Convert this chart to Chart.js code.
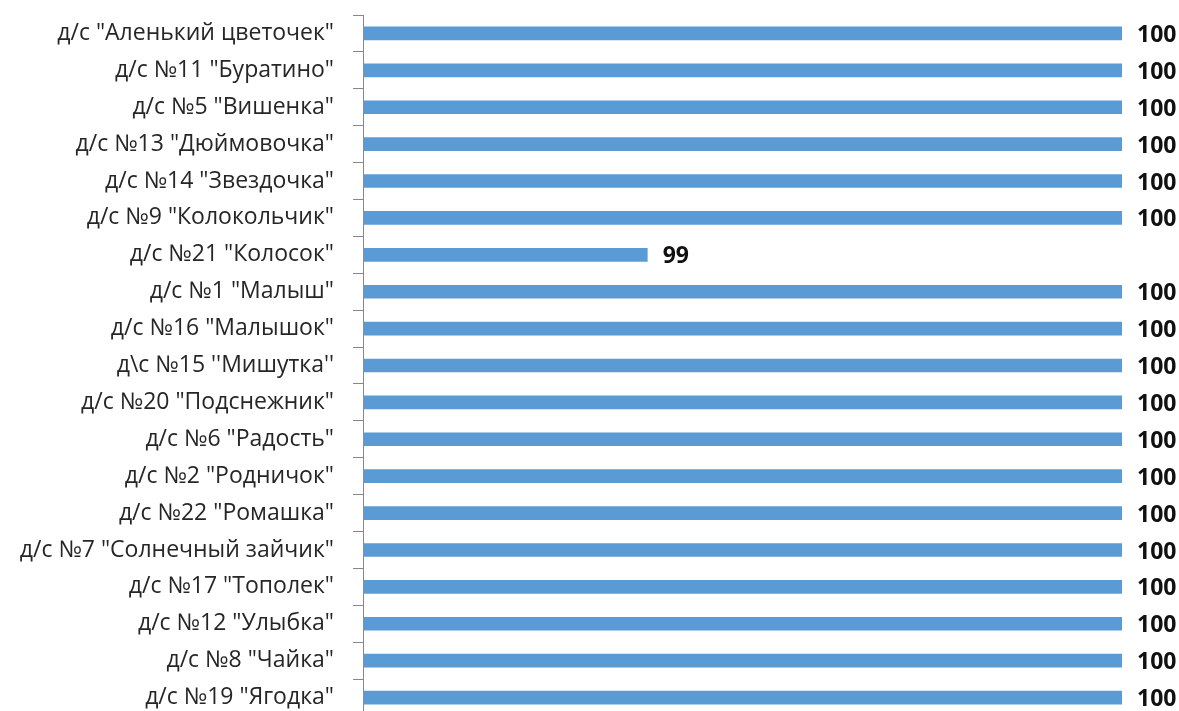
<!DOCTYPE html>
<html>
<head>
<meta charset="utf-8">
<script src="https://cdn.jsdelivr.net/npm/chart.js@4"></script>
<style>
html,body{margin:0;padding:0;background:#fff;overflow:hidden;}
#wrap{width:1179px;height:716px;}
</style>
</head>
<body>
<div id="wrap"><canvas id="c" width="1179" height="716"></canvas></div>
<script>
const categories = [
  'д/с "Аленький цветочек"',
  'д/с №11 "Буратино"',
  'д/с №5 "Вишенка"',
  'д/с №13 "Дюймовочка"',
  'д/с №14 "Звездочка"',
  'д/с №9 "Колокольчик"',
  'д/с №21 "Колосок"',
  'д/с №1 "Малыш"',
  'д/с №16 "Малышок"',
  "д\\с №15 ''Мишутка''",
  'д/с №20 "Подснежник"',
  'д/с №6 "Радость"',
  'д/с №2 "Родничок"',
  'д/с №22 "Ромашка"',
  'д/с №7 "Солнечный зайчик"',
  'д/с №17 "Тополек"',
  'д/с №12 "Улыбка"',
  'д/с №8 "Чайка"',
  'д/с №19 "Ягодка"'
];
const values = [100,100,100,100,100,100,99,100,100,100,100,100,100,100,100,100,100,100,100];
const axisMin = 98.4;
const axisMax = 100;

const valueLabels = {
  id: 'valueLabels',
  afterDatasetsDraw(chart) {
    const ctx = chart.ctx;
    const meta = chart.getDatasetMeta(0);
    ctx.save();
    ctx.font = 'bold 23px "Open Sans"';
    ctx.fillStyle = '#111';
    ctx.textAlign = 'left';
    ctx.textBaseline = 'middle';
    meta.data.forEach((bar, i) => {
      ctx.fillText(String(values[i]), bar.x + 15, bar.y + 2);
    });
    ctx.restore();
  }
};

new Chart(document.getElementById('c'), {
  type: 'bar',
  data: {
    labels: categories,
    datasets: [{
      data: values,
      backgroundColor: '#5B9BD5',
      borderWidth: 0,
      categoryPercentage: 1,
      barPercentage: 0.37
    }]
  },
  options: {
    indexAxis: 'y',
    responsive: false,
    animation: false,
    layout: { padding: { left: 0, right: 57, top: 15, bottom: 0 } },
    plugins: { legend: { display: false }, tooltip: { enabled: false } },
    scales: {
      x: {
        display: false,
        min: axisMin,
        max: axisMax
      },
      y: {
        afterFit(scale) { scale.width = 363; scale.paddingTop = 0; scale.paddingBottom = 0; },
        grid: {
          drawOnChartArea: false,
          offset: true,
          tickLength: 10,
          color: '#888'
        },
        border: { display: true, color: '#888', width: 1 },
        ticks: {
          color: '#262626',
          padding: 19,
          font: { family: 'Open Sans', size: 23 }
        }
      }
    }
  },
  plugins: [valueLabels]
});
</script>
</body>
</html>
